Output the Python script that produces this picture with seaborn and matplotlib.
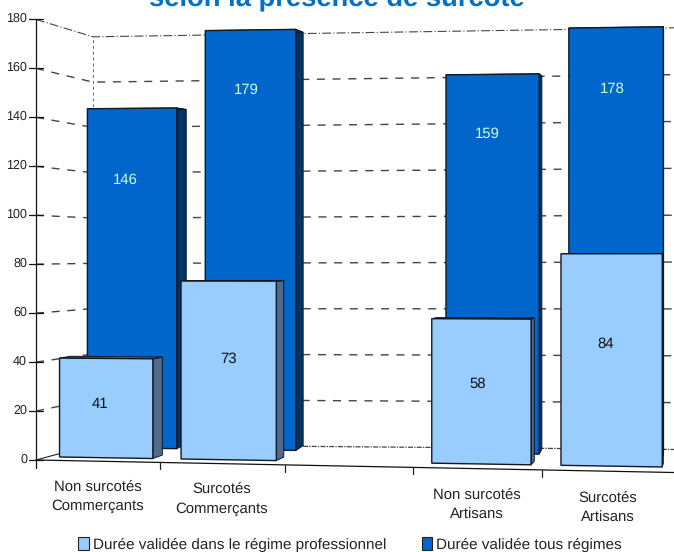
import numpy as np
import matplotlib
matplotlib.use('Agg')
import matplotlib.pyplot as plt
import seaborn as sns
from matplotlib.patches import Patch, Polygon
from matplotlib.transforms import Affine2D, Transform

categories = ['Non surcotés\nCommerçants', 'Surcotés\nCommerçants', ' ',
              'Non surcotés\nArtisans', 'Surcotés\nArtisans']
tous_regimes = [146, 179, np.nan, 159, 178]
regime_pro = [41, 73, np.nan, 58, 84]
y_ticks = [0, 20, 40, 60, 80, 100, 120, 140, 160, 180]
legend_labels = ['Durée validée dans le régime professionnel',
                 'Durée validée tous régimes']
title = 'selon la présence de surcote'

# hand placed label offsets from the top centre of each bar, in pixels
dark_label_offset = [(-6.5, 71.5), (-4, 60), (-5.5, 59.5), (-4, 61.5)]
light_label_offset = [(-6.5, 46), (0, 77.5), (-4, 65.5), (-6, 90.5)]

W, H = 674, 552
DARK = '#0066cc'
DARK_SIDE = '#003366'
LIGHT = '#99ccff'
LIGHT_SIDE = '#4f6a8c'
TITLE_BLUE = '#0070c8'

sns.set_theme(style='white')
plt.rcParams['font.family'] = ['Liberation Sans', 'DejaVu Sans']
plt.rcParams['text.hinting'] = 'no_hinting'

# image pixels (y going down) to display
screen = Affine2D().scale(1, -1).translate(0, H)


class Plane(Transform):
    # one vertical plane of the fake 3d box: category position and value to image pixels
    input_dims = 2
    output_dims = 2

    def __init__(self, xq, base, scale):
        super().__init__()
        self.xq = xq
        self.base = base
        self.scale = scale

    def pixels(self, xy):
        xy = np.asarray(xy, dtype=float)
        c, v = xy[:, 0], xy[:, 1]
        sx = self.xq[0] + self.xq[1] * c + self.xq[2] * c ** 2
        sy = self.base[0] + self.base[1] * sx - v * (self.scale[0] + self.scale[1] * sx)
        return np.column_stack([sx, sy])

    def transform_non_affine(self, values):
        p = self.pixels(values)
        p[:, 1] = H - p[:, 1]
        return p


front = Plane((97.5, 123.5, 1.03), (459.3, 0.0196), (2.44, 0.00021))
wall = Plane((151.1, 116.2, 0), (443.8, 0.0084), (2.253, 0.000133))
light_plane = Plane((106, 121.2, 1.29), (456, 0.0166), (2.40, 0.00021))
dark_plane = Plane((132, 117.67, 0.83), (446, 0.015), (2.305, 0.00016))


def pull(points, vp, f):
    # move points toward the vanishing point to get the back edge of a bar
    points = np.asarray(points)
    return points + (np.asarray(vp) - points) * f


def style_bars(container, plane, side_color, vp, f, z):
    for bar in container:
        h = bar.get_height()
        if np.isnan(h):
            continue
        x0 = bar.get_x()
        x1 = x0 + bar.get_width()
        bar.set_transform(plane)
        bar.set_clip_on(False)
        bar.set_edgecolor('#101820')
        bar.set_linewidth(1.0)
        bar.set_zorder(z + 0.1)
        p = plane.pixels([[x1, 0], [x1, h], [x0, h]])
        back = pull(p, vp, f)
        side = [p[0], p[1], back[1], back[0]]
        top = [p[2], p[1], back[1], back[2]]
        ax.add_patch(Polygon(side, closed=True, transform=screen, clip_on=False,
                             facecolor=side_color, edgecolor='#101820', lw=0.7, zorder=z))
        ax.add_patch(Polygon(top, closed=True, transform=screen, clip_on=False,
                             facecolor=side_color, edgecolor='#101820', lw=0.7, zorder=z))


fig = plt.figure(figsize=(W / 100, H / 100), dpi=100)
ax = fig.add_axes([0, 0, 1, 1])

sns.barplot(x=categories, y=tous_regimes, order=categories, color=DARK, saturation=1,
            width=0.76, errorbar=None, ax=ax)
sns.barplot(x=categories, y=regime_pro, order=categories, color=LIGHT, saturation=1,
            width=0.77, errorbar=None, ax=ax)
dark_bars = ax.containers[0]
light_bars = ax.containers[1]
ax.set_axis_off()

style_bars(dark_bars, dark_plane, DARK_SIDE, (680, 188), 0.0187, 5)
style_bars(light_bars, light_plane, LIGHT_SIDE, (725, 250), 0.0165, 7)

# gridlines: left wall then back wall
for v in y_ticks:
    left = front.pixels([[-0.5, v]])[0]
    corner = wall.pixels([[-0.5, v]])[0]
    right = wall.pixels([[4.5, v]])[0]
    if v == 0:
        ax.plot([left[0], corner[0]], [left[1], corner[1]], transform=screen, color='#222222',
                lw=0.8, clip_on=False, zorder=1)
        ax.plot([corner[0], right[0]], [corner[1], right[1]], transform=screen, color='#444444',
                lw=0.9, ls=(0, (4, 1, 1, 1)), clip_on=False, zorder=1)
    elif v == 180:
        ax.plot([left[0], corner[0], right[0]], [left[1], corner[1], right[1]], transform=screen,
                color='#444444', lw=0.8, ls=(0, (8, 2, 1, 2)), clip_on=False, zorder=1)
    else:
        ax.plot([left[0], corner[0], right[0]], [left[1], corner[1], right[1]], transform=screen,
                color='#444444', lw=1.0, ls=(0, (5.8, 5.5)), clip_on=False, zorder=1)

# back left corner of the box
c0, c1 = wall.pixels([[-0.5, 0], [-0.5, 180]])
ax.plot([c0[0], c1[0]], [c0[1], c1[1]], transform=screen, color='#666666', lw=0.7,
        ls=(0, (3, 3)), clip_on=False, zorder=1)

# value axis with ticks
a0, a1 = front.pixels([[-0.5, 0], [-0.5, 180]])
ax.plot([a0[0], a1[0]], [a0[1] + 8, a1[1]], transform=screen, color='#111111', lw=0.9,
        clip_on=False, zorder=8)
for v in y_ticks:
    p = front.pixels([[-0.5, v]])[0]
    ax.plot([p[0] - 7, p[0] + 7], [p[1], p[1]], transform=screen, color='#111111', lw=0.9,
            clip_on=False, zorder=8)
    ax.text(p[0] - 9, p[1] - 0.5, str(v), transform=screen, ha='right', va='center',
            fontsize=9, color='#222222')

# category axis with ticks between the slots
ax.plot([-0.5, 4.5], [0, 0], transform=front, color='#111111', lw=0.9, clip_on=False, zorder=8)
for i in range(1, 5):
    p = front.pixels([[i - 0.5, 0]])[0]
    ax.plot([p[0], p[0]], [p[1], p[1] + 7], transform=screen, color='#222222', lw=0.9,
            clip_on=False, zorder=8)

for i, name in enumerate(categories):
    ax.text(i, -14.3, name, transform=front, ha='center', va='center', fontsize=10.7,
            linespacing=1.5, color='#222222')

# value labels
pos = [i for i, v in enumerate(tous_regimes) if not np.isnan(v)]
for n, i in enumerate(pos):
    p = dark_plane.pixels([[i, tous_regimes[i]]])[0]
    ax.text(p[0] + dark_label_offset[n][0], p[1] + dark_label_offset[n][1], str(tous_regimes[i]),
            transform=screen, ha='center', va='center', fontsize=10.7, color='#ccffcc', zorder=6)
    p = light_plane.pixels([[i, regime_pro[i]]])[0]
    ax.text(p[0] + light_label_offset[n][0], p[1] + light_label_offset[n][1], str(regime_pro[i]),
            transform=screen, ha='center', va='center', fontsize=10.7, color='#111111', zorder=9)

ax.text(337, 6, title, transform=screen, ha='center', va='baseline', fontsize=19.7,
        fontweight='bold', color=TITLE_BLUE)

handles = [Patch(facecolor=LIGHT, edgecolor='#222222', lw=0.8),
           Patch(facecolor=DARK, edgecolor='#222222', lw=0.8)]
fig.legend(handles, legend_labels, ncol=2, loc='lower left', bbox_to_anchor=(66 / W, -0.022),
           frameon=False, fontsize=11, handlelength=0.68, handleheight=0.85, handletextpad=0.26,
           columnspacing=2.35, labelcolor='#222222', borderpad=0.3)

fig.savefig('out.png', dpi=100)
